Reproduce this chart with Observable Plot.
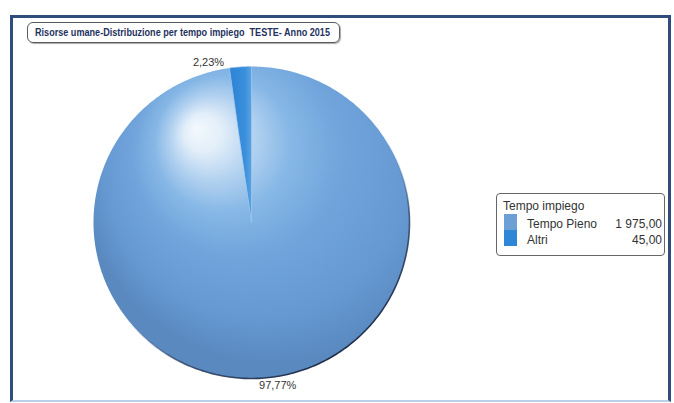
<!DOCTYPE html>
<html>
<head>
<meta charset="utf-8">
<script src="https://cdn.jsdelivr.net/npm/d3@7"></script>
<script src="https://cdn.jsdelivr.net/npm/@observablehq/plot@0.6"></script>
<style>
  html, body { margin: 0; padding: 0; background: #fff; }
  #wrap { position: relative; width: 674px; height: 403px; overflow: hidden; font-family: "Liberation Sans", Arial, sans-serif; }
  #wrap svg { position: absolute; left: 0; top: 0; }
  .frame { position: absolute; left: 10px; top: 15px; width: 655px; height: 382px; border: 3px solid #2f4d7c; border-bottom: 2px solid #b9d0e8; box-sizing: content-box; }
  .title { position: absolute; left: 27px; top: 22px; width: 311px; height: 19px; border: 1.5px solid #5a5a5a; border-radius: 6px; box-shadow: 1px 1px 1px #aaa; font-family: "Liberation Sans", Arial, sans-serif; font-weight: bold; font-size: 11.5px; color: #1f3260; line-height: 19px; box-sizing: content-box; white-space: pre; }
  .title span { display: inline-block; transform: scaleX(0.79); transform-origin: 0 50%; margin-left: 7px; }
  .legend { position: absolute; left: 496px; top: 193px; width: 167px; height: 61px; border: 1px solid #666; border-radius: 4px; font-size: 12px; color: #333; }
  .legend .lt { position: absolute; left: 6px; top: 5px; }
  .legend .sw { position: absolute; left: 7px; width: 13px; height: 16px; }
  .legend .nm { position: absolute; left: 30px; }
  .legend .vl { position: absolute; right: 2px; }
</style>
</head>
<body>
<div id="wrap">
  <div class="frame"></div>
</div>
<script>
const categories = ["Tempo Pieno", "Altri"];
const values = [1975, 45];
const percentLabels = ["97,77%", "2,23%"];
const valueLabels = ["1 975,00", "45,00"];
const legendTitle = "Tempo impiego";
const chartTitle = "Risorse umane-Distribuzione per tempo impiego  TESTE- Anno 2015";

const arcs = d3.pie().sort(null).startAngle(0).endAngle(2 * Math.PI)(values);

// polygon outline of each slice in unit-circle coordinates (y up)
function slicePoints(a, name) {
  const pts = [{cat: name, x: 0, y: 0}];
  const n = Math.max(4, Math.ceil((a.endAngle - a.startAngle) / 0.01));
  for (let i = 0; i <= n; i++) {
    const t = a.startAngle + (a.endAngle - a.startAngle) * i / n;
    pts.push({cat: name, x: Math.sin(t), y: Math.cos(t)});
  }
  pts.push({cat: name, x: 0, y: 0});
  return pts;
}
const bigPts = slicePoints(arcs[0], categories[0]);
const smallPts = slicePoints(arcs[1], categories[1]);

// outer rim (lower part shaded dark)
const rim = [];
for (let i = 0; i <= 400; i++) {
  const t = 2 * Math.PI * i / 400;
  rim.push({x: Math.sin(t), y: Math.cos(t)});
}

const labels = arcs.map((a, i) => {
  const m = (a.startAngle + a.endAngle) / 2;
  const r = i === 0 ? 1.045 : 1.03;
  return {text: percentLabels[i], x: Math.sin(m) * r, y: Math.cos(m) * r, right: Math.sin(m) >= 0};
});

const plot = Plot.plot({
  width: 674,
  height: 403,
  margin: 0,
  x: {domain: [-1, 1], range: [93, 409], axis: null},
  y: {domain: [-1, 1], range: [378, 66], axis: null},
  marks: [
    Plot.line(bigPts, {x: "x", y: "y", fill: "url(#gBig)", stroke: "none", curve: "linear"}),
    Plot.line(smallPts, {x: "x", y: "y", fill: "url(#gSmall)", stroke: "#9cc4ea", strokeWidth: 0.6, curve: "linear"}),
    Plot.line(rim, {x: "x", y: "y", stroke: "url(#gRim)", strokeWidth: 1.6, curve: "linear"}),
    Plot.text(labels.filter(d => d.right), {x: "x", y: "y", text: "text", textAnchor: "start", dx: -4, fontSize: 11, fill: "#333", fontFamily: "Liberation Sans, Arial, sans-serif"}),
    Plot.text(labels.filter(d => !d.right), {x: "x", y: "y", text: "text", textAnchor: "end", dx: -16, fontSize: 11, fill: "#333", fontFamily: "Liberation Sans, Arial, sans-serif"})
  ]
});

const svg = d3.select(plot);
const defs = svg.insert("defs", ":first-child");
const gb = defs.append("radialGradient").attr("id", "gBig")
  .attr("gradientUnits", "userSpaceOnUse")
  .attr("cx", 245).attr("cy", 200).attr("r", 190)
  .attr("fx", 195).attr("fy", 128)
  .attr("gradientTransform", "rotate(-25 195 128)");
[[0, "#f4f9fd"], [0.1, "#e2eef9"], [0.22, "#b3d2f0"], [0.36, "#86b7e6"], [0.55, "#70a4db"], [0.8, "#6699d2"], [1, "#5a89c0"]]
  .forEach(([o, c]) => gb.append("stop").attr("offset", o).attr("stop-color", c));
const gs = defs.append("linearGradient").attr("id", "gSmall")
  .attr("x1", 0).attr("y1", 0).attr("x2", 1).attr("y2", 0);
[[0, "#2c82d4"], [0.7, "#3a8fdc"], [1, "#5aa2e2"]]
  .forEach(([o, c]) => gs.append("stop").attr("offset", o).attr("stop-color", c));
const gr = defs.append("linearGradient").attr("id", "gRim")
  .attr("gradientUnits", "userSpaceOnUse")
  .attr("x1", 170).attr("y1", 120).attr("x2", 330).attr("y2", 370);
[[0, "#6a9fd8", 0], [0.45, "#5886bd", 0], [0.7, "#2a3f63", 0.8], [1, "#1b2a44", 1]]
  .forEach(([o, c, a]) => gr.append("stop").attr("offset", o).attr("stop-color", c).attr("stop-opacity", a));

const wrap = document.getElementById("wrap");
wrap.insertBefore(plot, wrap.firstChild);

const title = document.createElement("div");
title.className = "title";
const tspan = document.createElement("span");
tspan.textContent = chartTitle;
title.appendChild(tspan);
wrap.appendChild(title);

const legend = document.createElement("div");
legend.className = "legend";
const swatchColors = ["#6c9fd6", "#2e86d6"];
let html = `<div class="lt">${legendTitle}</div>`;
categories.forEach((c, i) => {
  html += `<div class="sw" style="top:${20 + i * 16}px;background:${swatchColors[i]}"></div>`;
  html += `<div class="nm" style="top:${23 + i * 16}px">${c}</div>`;
  html += `<div class="vl" style="top:${23 + i * 16}px">${valueLabels[i]}</div>`;
});
legend.innerHTML = html;
wrap.appendChild(legend);
</script>
</body>
</html>
